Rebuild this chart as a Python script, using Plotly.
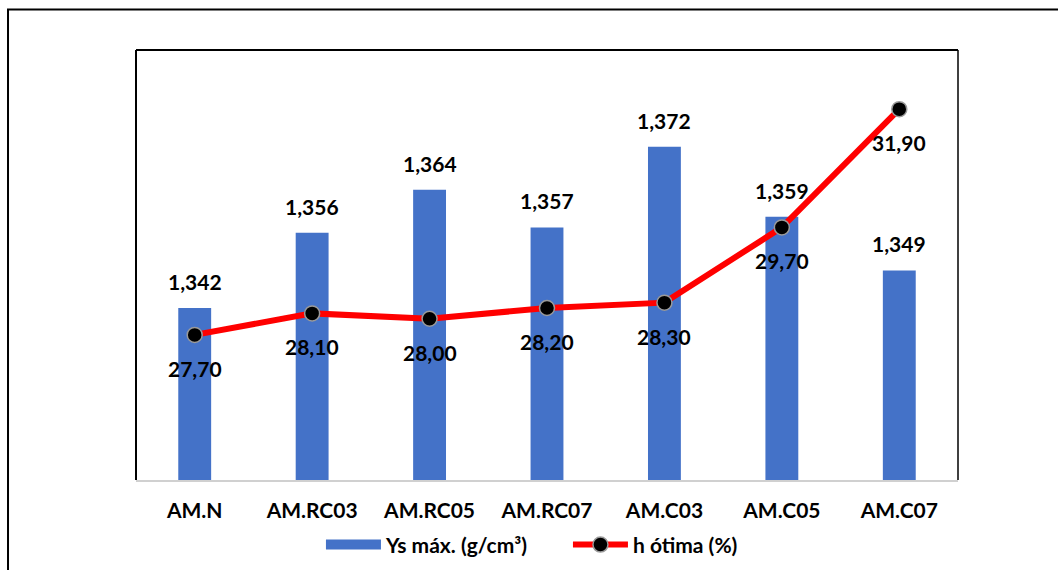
import plotly.graph_objects as go

categories = ["AM.N", "AM.RC03", "AM.RC05", "AM.RC07", "AM.C03", "AM.C05", "AM.C07"]
ys_max = [1.342, 1.356, 1.364, 1.357, 1.372, 1.359, 1.349]
h_otima = [27.70, 28.10, 28.00, 28.20, 28.30, 29.70, 31.90]

bar_name = "Ys máx. (g/cm³)"
line_name = "h ótima (%)"

FONT = "Lato"
FS = 21
BAR_COLOR = "#4472C8"

fig = go.Figure()
fig.add_trace(go.Bar(
    x=categories, y=ys_max, name=bar_name,
    width=0.28,
    marker=dict(color=BAR_COLOR, line=dict(width=0)),
    yaxis="y", showlegend=False,
))
# legend swatch for the bars (wide rectangle, as in the reference)
fig.add_trace(go.Scatter(
    x=[None], y=[None], name=bar_name, mode="lines",
    line=dict(color=BAR_COLOR, width=13), yaxis="y",
))
fig.add_trace(go.Scatter(
    x=categories, y=h_otima, name=line_name, mode="lines+markers",
    line=dict(color="#FF0000", width=6),
    marker=dict(color="#000000", size=15, line=dict(color="#9A9A9A", width=1.5)),
    yaxis="y2", cliponaxis=False,
))

annotations = []
for c, v in zip(categories, ys_max):
    annotations.append(dict(
        x=c, y=v, xref="x", yref="y", text=f"{v:.3f}".replace(".", ","),
        showarrow=False, yanchor="bottom", yshift=12,
        font=dict(family=FONT, size=FS, color="#000000", weight="bold"),
    ))
for c, v in zip(categories, h_otima):
    annotations.append(dict(
        x=c, y=v, xref="x", yref="y2", text=f"{v:.2f}".replace(".", ","),
        showarrow=False, yanchor="top", yshift=-19,
        font=dict(family=FONT, size=FS, color="#000000", weight="bold"),
    ))

shapes = [
    dict(type="rect", xref="paper", yref="paper", x0=-0.1557, x1=1.13, y0=-0.23, y1=1.094,
         line=dict(color="#000000", width=2), layer="below"),
    dict(type="line", xref="paper", yref="paper", x0=0, x1=0, y0=0, y1=1,
         line=dict(color="#000000", width=2)),
    dict(type="line", xref="paper", yref="paper", x0=0, x1=1, y0=1, y1=1,
         line=dict(color="#000000", width=2)),
    dict(type="line", xref="paper", yref="paper", x0=1, x1=1, y0=0, y1=1,
         line=dict(color="#000000", width=1.5)),
]

fig.update_layout(
    width=1058, height=570,
    margin=dict(l=136, r=100, t=50, b=90, autoexpand=False),
    paper_bgcolor="#FFFFFF", plot_bgcolor="#FFFFFF",
    font=dict(family=FONT, color="#000000"),
    xaxis=dict(
        range=[-0.5, 6.5], showgrid=False, zeroline=False,
        showline=True, linecolor="#D0D0D0", linewidth=2,
        ticks="", tickfont=dict(family=FONT, size=FS, color="#000000", weight="bold"),
        ticklabelstandoff=11, automargin=False,
    ),
    yaxis=dict(range=[1.31, 1.39], visible=False, showgrid=False),
    yaxis2=dict(range=[25, 33], visible=False, showgrid=False, overlaying="y", side="right"),
    legend=dict(
        orientation="h", x=0.225, xanchor="left", y=-0.151, yanchor="middle",
        font=dict(family=FONT, size=FS, color="#000000", weight="bold"),
        itemwidth=55, traceorder="normal",
        entrywidth=177, entrywidthmode="pixels",
    ),
    annotations=annotations,
    shapes=shapes,
)

fig.write_html("out.html")
